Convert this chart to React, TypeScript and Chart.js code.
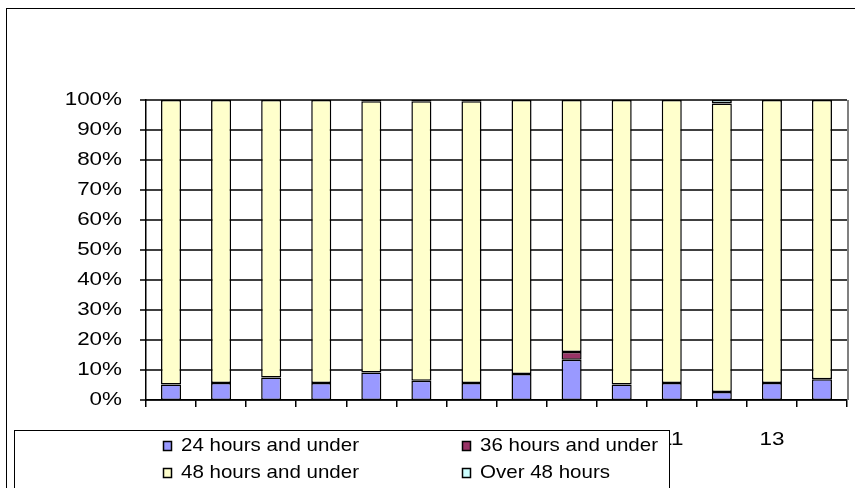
import React, { useEffect, useRef } from "react";
import { Chart, registerables } from "chart.js";

Chart.register(...registerables);

const categories = ["1", "2", "3", "4", "5", "6", "7", "8", "9", "10", "11", "12", "13", "14"];
const under24 = [5.2, 5.7, 7.5, 5.7, 9.2, 6.4, 5.7, 8.7, 13.4, 5.2, 5.7, 2.7, 5.7, 6.9];
const under36 = [0, 0, 0, 0, 0, 0, 0, 0, 2.6, 0, 0, 0, 0, 0];
const under48 = [94.8, 94.3, 92.5, 94.3, 90.4, 93.2, 93.9, 91.3, 84.0, 94.8, 94.3, 96.1, 94.3, 93.1];
const over48 = [0, 0, 0, 0, 0.4, 0.4, 0.4, 0, 0, 0, 0, 1.2, 0, 0];
const seriesNames = ["24 hours and under", "36 hours and under", "48 hours and under", "Over 48 hours"];
const seriesColors = ["#9999FF", "#993366", "#FFFFCC", "#CCFFFF"];
const yTickValues = [0, 10, 20, 30, 40, 50, 60, 70, 80, 90, 100];

const FONT = "'Liberation Sans', Arial, sans-serif";
const FONT_SIZE = 19;
const STRETCH = 1.18;

function drawText(ctx: CanvasRenderingContext2D, text: string, x: number, y: number, align: CanvasTextAlign, stretch = STRETCH) {
  ctx.save();
  ctx.font = `${FONT_SIZE}px ${FONT}`;
  ctx.fillStyle = "#000";
  ctx.textBaseline = "middle";
  ctx.textAlign = align;
  ctx.translate(x, y);
  ctx.scale(stretch, 1);
  ctx.fillText(text, 0, 0);
  ctx.restore();
}

const framePlugin = {
  id: "excelFrame",
  beforeDraw(chart: any) {
    const ctx = chart.ctx as CanvasRenderingContext2D;
    ctx.save();
    ctx.fillStyle = "#fff";
    ctx.fillRect(0, 0, chart.width, chart.height);
    ctx.strokeStyle = "#000";
    ctx.lineWidth = 1;
    ctx.strokeRect(6.5, 8.5, 1000, 1000);
    ctx.restore();
  },
  beforeDatasetsDraw(chart: any) {
    const ctx = chart.ctx as CanvasRenderingContext2D;
    const area = chart.chartArea;
    const ys = chart.scales.y;
    ctx.save();
    ctx.strokeStyle = "#000";
    ctx.lineWidth = 1.5;
    yTickValues.forEach((v) => {
      const y = ys.getPixelForValue(v);
      ctx.beginPath();
      ctx.moveTo(area.left - 6, y);
      ctx.lineTo(area.right, y);
      ctx.stroke();
    });
    ctx.strokeStyle = "#808080";
    ctx.lineWidth = 2;
    ctx.beginPath();
    ctx.moveTo(area.right + 1, area.top);
    ctx.lineTo(area.right + 1, area.bottom);
    ctx.stroke();
    ctx.restore();
  },
  afterDraw(chart: any) {
    const ctx = chart.ctx as CanvasRenderingContext2D;
    const area = chart.chartArea;
    const xs = chart.scales.x;
    const ys = chart.scales.y;
    yTickValues.forEach((v) => {
      drawText(ctx, `${v}%`, area.left - 24, ys.getPixelForValue(v), "right");
    });
    categories.forEach((c, i) => {
      if (i % 2 === 0) drawText(ctx, c, xs.getPixelForValue(i), 440, "center");
    });
    ctx.save();
    ctx.fillStyle = "#fff";
    ctx.strokeStyle = "#000";
    ctx.lineWidth = 1;
    ctx.fillRect(14.5, 430.5, 655, 200);
    ctx.strokeRect(14.5, 430.5, 655, 200);
    ctx.restore();
    const cols = [163, 462];
    const rows = [446, 473];
    seriesNames.forEach((name, i) => {
      const cx = cols[i % 2];
      const cy = rows[Math.floor(i / 2)];
      ctx.save();
      ctx.fillStyle = seriesColors[i];
      ctx.strokeStyle = "#000";
      ctx.lineWidth = 1.5;
      ctx.fillRect(cx, cy - 5, 9, 10);
      ctx.strokeRect(cx + 0.5, cy - 5 + 0.5, 8, 9);
      ctx.restore();
      drawText(ctx, name, cx + 18, cy, "left", 1.08);
    });
  },
};

export default function App() {
  const ref = useRef<HTMLCanvasElement | null>(null);
  useEffect(() => {
    if (!ref.current) return;
    const data = [under24, under36, under48, over48];
    const chart = new Chart(ref.current, {
      type: "bar",
      data: {
        labels: categories,
        datasets: seriesNames.map((n, i) => ({
          label: n,
          data: data[i],
          backgroundColor: seriesColors[i],
          borderColor: "#000",
          borderWidth: 1.5,
          borderSkipped: false,
          categoryPercentage: 1,
          barPercentage: 0.4,
        })),
      },
      options: {
        responsive: false,
        animation: false,
        devicePixelRatio: 1,
        layout: { padding: { top: 100, right: 8, left: 0, bottom: 0 } },
        plugins: { legend: { display: false }, tooltip: { enabled: false } },
        scales: {
          x: {
            stacked: true,
            offset: true,
            afterFit: (s: any) => {
              s.height = 88;
            },
            grid: {
              display: true,
              offset: true,
              drawOnChartArea: false,
              drawTicks: true,
              tickLength: 7,
              color: "#000",
              lineWidth: 1.5,
            },
            border: { display: true, color: "#000", width: 1.5 },
            ticks: { display: false },
          },
          y: {
            stacked: true,
            min: 0,
            max: 100,
            afterFit: (s: any) => {
              s.width = 146;
            },
            ticks: { display: false, stepSize: 10 },
            grid: { display: false },
            border: { display: true, color: "#000", width: 1.5 },
          },
        },
      },
      plugins: [framePlugin],
    });
    return () => chart.destroy();
  }, []);
  return (
    <div style={{ position: "absolute", left: 0, top: 0, width: 855, height: 488 }}>
      <canvas ref={ref} width={855} height={488} style={{ display: "block", width: 855, height: 488 }} />
    </div>
  );
}
